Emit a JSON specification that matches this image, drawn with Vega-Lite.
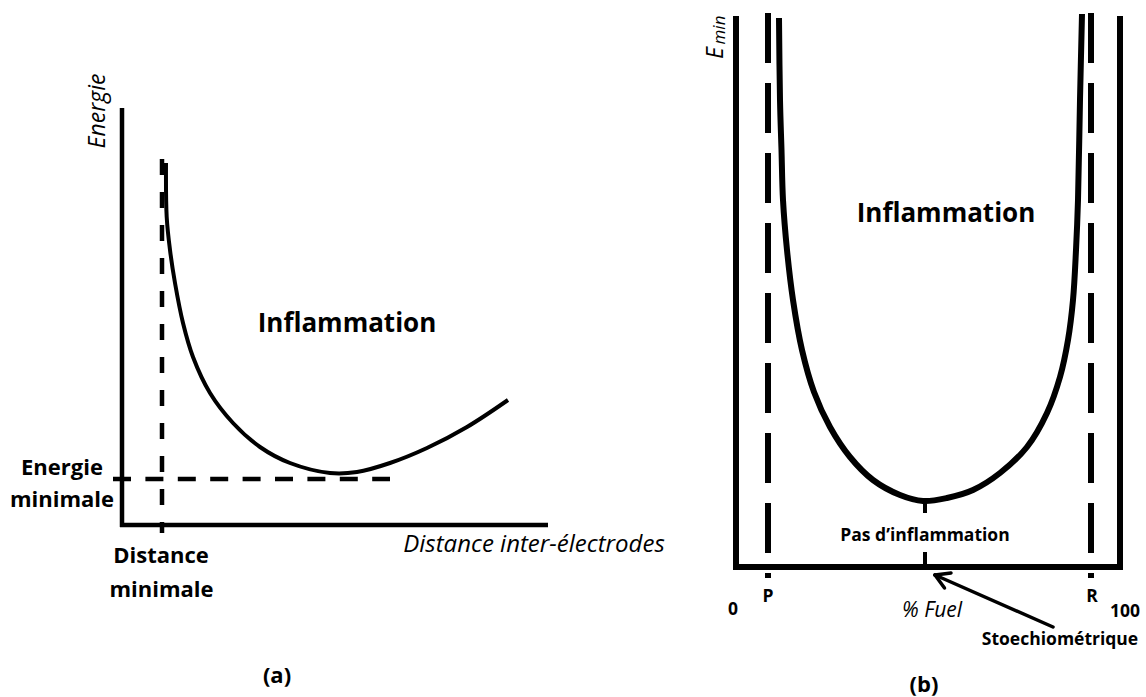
{
  "$schema": "https://vega.github.io/schema/vega-lite/v6.json",
  "width": 1146,
  "height": 697,
  "padding": 0,
  "autosize": {"type": "none"},
  "background": "white",
  "config": {"view": {"stroke": null}, "text": {"font": "Open Sans", "color": "black"}},
  "datasets": {
    "segments": [
      {"kind": "axisA", "x": 122, "y": 108, "x2": 122, "y2": 527},
      {"kind": "axisA", "x": 120, "y": 525, "x2": 548, "y2": 525},
      {"kind": "dashAv", "x": 162, "y": 159, "x2": 162, "y2": 533},
      {"kind": "dashAh", "x": 113, "y": 479, "x2": 390, "y2": 479},
      {"kind": "frameB", "x": 736, "y": 16, "x2": 736, "y2": 570},
      {"kind": "frameB", "x": 733, "y": 567, "x2": 1123, "y2": 567},
      {"kind": "frameB", "x": 1120, "y": 16, "x2": 1120, "y2": 570},
      {"kind": "dashB", "x": 768, "y": 13, "x2": 768, "y2": 578},
      {"kind": "dashB", "x": 1091, "y": 13, "x2": 1091, "y2": 578},
      {"kind": "tickB", "x": 925, "y": 501, "x2": 925, "y2": 513},
      {"kind": "tickB", "x": 925, "y": 552, "x2": 925, "y2": 567},
      {"kind": "arrow", "x": 1053, "y": 627, "x2": 935, "y2": 575},
      {"kind": "arrow", "x": 935, "y": 575, "x2": 951, "y2": 573},
      {"kind": "arrow", "x": 935, "y": 575, "x2": 944.5, "y2": 588}
    ],
    "curves": [
      {"curve": "a", "i": 0, "x": 166, "y": 163},
      {"curve": "a", "i": 1, "x": 166.7, "y": 217},
      {"curve": "a", "i": 2, "x": 170, "y": 250},
      {"curve": "a", "i": 3, "x": 175, "y": 283},
      {"curve": "a", "i": 4, "x": 183, "y": 323},
      {"curve": "a", "i": 5, "x": 193, "y": 357},
      {"curve": "a", "i": 6, "x": 210, "y": 393},
      {"curve": "a", "i": 7, "x": 233, "y": 423},
      {"curve": "a", "i": 8, "x": 260, "y": 447},
      {"curve": "a", "i": 9, "x": 290, "y": 463},
      {"curve": "a", "i": 10, "x": 330, "y": 473},
      {"curve": "a", "i": 11, "x": 357, "y": 472},
      {"curve": "a", "i": 12, "x": 390, "y": 463},
      {"curve": "a", "i": 13, "x": 427, "y": 448},
      {"curve": "a", "i": 14, "x": 467, "y": 427},
      {"curve": "a", "i": 15, "x": 508, "y": 400},
      {"curve": "b", "i": 0, "x": 779, "y": 18},
      {"curve": "b", "i": 1, "x": 780, "y": 100},
      {"curve": "b", "i": 2, "x": 781.5, "y": 150},
      {"curve": "b", "i": 3, "x": 783, "y": 200},
      {"curve": "b", "i": 4, "x": 787, "y": 250},
      {"curve": "b", "i": 5, "x": 793, "y": 300},
      {"curve": "b", "i": 6, "x": 802, "y": 350},
      {"curve": "b", "i": 7, "x": 814, "y": 392},
      {"curve": "b", "i": 8, "x": 830, "y": 427},
      {"curve": "b", "i": 9, "x": 850, "y": 457},
      {"curve": "b", "i": 10, "x": 873, "y": 480},
      {"curve": "b", "i": 11, "x": 900, "y": 495},
      {"curve": "b", "i": 12, "x": 923, "y": 501},
      {"curve": "b", "i": 13, "x": 947, "y": 498},
      {"curve": "b", "i": 14, "x": 973, "y": 490},
      {"curve": "b", "i": 15, "x": 1000, "y": 473},
      {"curve": "b", "i": 16, "x": 1027, "y": 447},
      {"curve": "b", "i": 17, "x": 1047, "y": 413},
      {"curve": "b", "i": 18, "x": 1060, "y": 377},
      {"curve": "b", "i": 19, "x": 1068, "y": 340},
      {"curve": "b", "i": 20, "x": 1073, "y": 300},
      {"curve": "b", "i": 21, "x": 1076, "y": 250},
      {"curve": "b", "i": 22, "x": 1078, "y": 200},
      {"curve": "b", "i": 23, "x": 1080, "y": 100},
      {"curve": "b", "i": 24, "x": 1082, "y": 14}
    ],
    "labels": [
      {"role": "big", "label": "Inflammation", "x": 347, "y": 332},
      {"role": "big", "label": "Inflammation", "x": 946, "y": 222},
      {"role": "boldA", "label": "Energie", "x": 62, "y": 475},
      {"role": "boldA", "label": "minimale", "x": 62, "y": 507},
      {"role": "boldA", "label": "Distance", "x": 161, "y": 563},
      {"role": "boldA", "label": "minimale", "x": 161.5, "y": 597},
      {"role": "italicA", "label": "Distance inter-électrodes", "x": 534, "y": 552},
      {"role": "vertA", "label": "Energie", "x": 105, "y": 111},
      {"role": "boldB", "label": "Pas d’inflammation", "x": 925, "y": 541},
      {"role": "boldB", "label": "0", "x": 733, "y": 615},
      {"role": "boldB", "label": "P", "x": 768, "y": 602},
      {"role": "boldB", "label": "R", "x": 1092, "y": 602},
      {"role": "boldB", "label": "100", "x": 1125, "y": 617},
      {"role": "boldB", "label": "Stoechiométrique", "x": 1060, "y": 645},
      {"role": "italicB", "label": "% Fuel", "x": 932, "y": 617},
      {"role": "caption", "label": "(a)", "x": 277, "y": 683},
      {"role": "caption", "label": "(b)", "x": 924, "y": 692},
      {"role": "vertE", "label": "E", "x": 723, "y": 53},
      {"role": "vertMin", "label": "min", "x": 725, "y": 30}
    ]
  },
  "encoding": {
    "x": {"field": "x", "type": "quantitative", "scale": {"domain": [0, 1146], "nice": false, "zero": false}, "axis": null},
    "y": {"field": "y", "type": "quantitative", "scale": {"domain": [0, 697], "reverse": true, "nice": false, "zero": false}, "axis": null}
  },
  "layer": [
    {"data": {"name": "segments"}, "transform": [{"filter": "datum.kind === 'axisA'"}],
     "mark": {"type": "rule", "strokeWidth": 4.5, "color": "black"},
     "encoding": {"x2": {"field": "x2"}, "y2": {"field": "y2"}}},
    {"data": {"name": "segments"}, "transform": [{"filter": "datum.kind === 'dashAv'"}],
     "mark": {"type": "rule", "strokeWidth": 4.5, "color": "black", "strokeDash": [16, 17]},
     "encoding": {"x2": {"field": "x2"}, "y2": {"field": "y2"}}},
    {"data": {"name": "segments"}, "transform": [{"filter": "datum.kind === 'dashAh'"}],
     "mark": {"type": "rule", "strokeWidth": 4.5, "color": "black", "strokeDash": [18, 14.4]},
     "encoding": {"x2": {"field": "x2"}, "y2": {"field": "y2"}}},
    {"data": {"name": "segments"}, "transform": [{"filter": "datum.kind === 'frameB'"}],
     "mark": {"type": "rule", "strokeWidth": 6, "color": "black"},
     "encoding": {"x2": {"field": "x2"}, "y2": {"field": "y2"}}},
    {"data": {"name": "segments"}, "transform": [{"filter": "datum.kind === 'dashB'"}],
     "mark": {"type": "rule", "strokeWidth": 6, "color": "black", "strokeDash": [50, 20]},
     "encoding": {"x2": {"field": "x2"}, "y2": {"field": "y2"}}},
    {"data": {"name": "segments"}, "transform": [{"filter": "datum.kind === 'tickB'"}],
     "mark": {"type": "rule", "strokeWidth": 4, "color": "black"},
     "encoding": {"x2": {"field": "x2"}, "y2": {"field": "y2"}}},
    {"data": {"name": "segments"}, "transform": [{"filter": "datum.kind === 'arrow'"}],
     "mark": {"type": "rule", "strokeWidth": 3.5, "color": "black", "strokeCap": "round"},
     "encoding": {"x2": {"field": "x2"}, "y2": {"field": "y2"}}},
    {"data": {"name": "curves"}, "transform": [{"filter": "datum.curve === 'a'"}],
     "mark": {"type": "line", "strokeWidth": 4, "color": "black", "interpolate": "catmull-rom"},
     "encoding": {"order": {"field": "i", "type": "quantitative"}}},
    {"data": {"name": "curves"}, "transform": [{"filter": "datum.curve === 'b'"}],
     "mark": {"type": "line", "strokeWidth": 6, "color": "black", "interpolate": "catmull-rom"},
     "encoding": {"order": {"field": "i", "type": "quantitative"}}},
    {"data": {"name": "labels"}, "transform": [{"filter": "datum.role === 'big'"}],
     "mark": {"type": "text", "fontSize": 26, "fontWeight": "bold", "align": "center", "baseline": "alphabetic"},
     "encoding": {"text": {"field": "label"}}},
    {"data": {"name": "labels"}, "transform": [{"filter": "datum.role === 'boldA'"}],
     "mark": {"type": "text", "fontSize": 22, "fontWeight": "bold", "align": "center", "baseline": "alphabetic"},
     "encoding": {"text": {"field": "label"}}},
    {"data": {"name": "labels"}, "transform": [{"filter": "datum.role === 'italicA'"}],
     "mark": {"type": "text", "fontSize": 24, "fontStyle": "italic", "align": "center", "baseline": "alphabetic"},
     "encoding": {"text": {"field": "label"}}},
    {"data": {"name": "labels"}, "transform": [{"filter": "datum.role === 'vertA'"}],
     "mark": {"type": "text", "fontSize": 23, "fontStyle": "italic", "align": "center", "baseline": "alphabetic", "angle": 270},
     "encoding": {"text": {"field": "label"}}},
    {"data": {"name": "labels"}, "transform": [{"filter": "datum.role === 'boldB'"}],
     "mark": {"type": "text", "fontSize": 17.5, "fontWeight": "bold", "align": "center", "baseline": "alphabetic"},
     "encoding": {"text": {"field": "label"}}},
    {"data": {"name": "labels"}, "transform": [{"filter": "datum.role === 'italicB'"}],
     "mark": {"type": "text", "fontSize": 21, "fontStyle": "italic", "align": "center", "baseline": "alphabetic"},
     "encoding": {"text": {"field": "label"}}},
    {"data": {"name": "labels"}, "transform": [{"filter": "datum.role === 'caption'"}],
     "mark": {"type": "text", "fontSize": 22, "fontWeight": "bold", "align": "center", "baseline": "alphabetic"},
     "encoding": {"text": {"field": "label"}}},
    {"data": {"name": "labels"}, "transform": [{"filter": "datum.role === 'vertE'"}],
     "mark": {"type": "text", "fontSize": 23, "fontStyle": "italic", "align": "center", "baseline": "alphabetic", "angle": 270},
     "encoding": {"text": {"field": "label"}}},
    {"data": {"name": "labels"}, "transform": [{"filter": "datum.role === 'vertMin'"}],
     "mark": {"type": "text", "fontSize": 17, "fontStyle": "italic", "align": "center", "baseline": "alphabetic", "angle": 270},
     "encoding": {"text": {"field": "label"}}}
  ]
}
